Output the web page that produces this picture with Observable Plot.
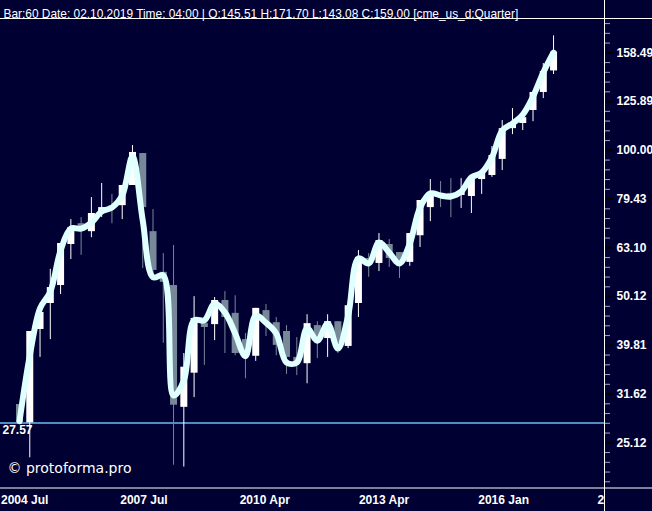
<!DOCTYPE html>
<html><head><meta charset="utf-8">
<script src="https://cdn.jsdelivr.net/npm/d3@7"></script>
<script src="https://cdn.jsdelivr.net/npm/@observablehq/plot@0.6"></script>
<style>
html,body{margin:0;padding:0;background:#000033;}
#chart svg{display:block;}
</style></head><body><div id="chart"></div>
<script>
// Quarterly OHLC candles (bar index 0..52)
const opens  = [30.1,27.6,42.9,48.5,52.8,64.1,70.7,68.1,74.2,77.0,77.0,84.7,98.5,68.1,56.2,52.8,29.7,34.9,44.1,43.9,49.2,46.3,40.9,37.8,46.9,44.3,42.5,37.6,36.5,43.7,41.1,44.5,39.6,48.5,60.0,58.6,64.1,61.7,58.9,66.8,76.3,81.6,81.6,80.8,80.4,87.1,88.8,95.8,110.8,113.5,120.7,131.4,145.51];
const highs  = [30.1,42.5,46.5,57.0,64.4,72.1,72.8,80.0,85.5,81.2,84.7,102.3,98.5,75.6,61.4,63.8,38.3,50.1,44.8,49.9,51.3,50.3,42.1,47.4,48.3,45.4,43.7,41.3,46.0,44.5,46.0,44.5,48.0,62.3,61.4,67.5,65.6,61.7,67.5,78.9,87.1,86.3,87.5,87.5,88.0,89.6,101.8,115.1,121.8,116.7,131.4,150.7,171.70];
const lows   = [27.6,23.4,37.6,40.9,50.6,59.7,60.9,66.2,72.8,70.7,72.1,84.7,57.2,55.4,40.2,22.6,22.4,31.1,36.2,40.7,38.3,37.9,34.0,36.9,41.5,37.9,34.7,34.5,33.2,37.4,37.6,38.3,39.2,45.4,54.9,56.4,57.5,54.6,57.8,63.2,71.4,76.3,72.8,76.0,74.2,81.2,88.0,90.9,107.7,109.8,114.5,127.7,143.08];
const closes = [27.57,42.5,46.5,52.3,64.4,69.4,69.4,74.2,76.3,76.0,84.7,99.0,76.3,56.7,53.6,30.0,35.9,45.2,43.3,49.2,45.4,38.3,37.9,47.4,44.3,39.8,37.6,36.7,44.1,40.7,44.5,40.2,48.0,60.3,58.9,65.3,60.0,58.9,67.5,78.9,82.0,80.4,80.4,82.0,88.0,89.6,97.6,110.8,113.5,116.7,131.4,145.1,159.00];
// Smoothed indicator line
const smoothValues = [27.8,37.9,47.4,51.3,62.3,69.1,69.1,71.1,74.9,76.3,80.8,97.1,71.8,54.9,55.4,31.4,33.7,44.8,44.8,48.5,46.5,42.1,37.8,45.8,44.3,42.1,36.7,36.7,43.1,40.7,44.1,39.2,45.8,60.0,58.6,64.7,61.7,58.6,64.4,76.3,81.6,80.8,80.4,82.3,88.0,90.0,96.7,109.8,113.5,118.4,128.9,144.4,158.7];
// Level line
const levelValue = [27.57];
// Axis ticks
const yTickValues = [25.12,31.62,39.81,50.12,63.10,79.43,100.00,125.89,158.49];
const xTickLabels = ["2004 Jul","2007 Jul","2010 Apr","2013 Apr","2016 Jan","2"];
const xTickAt     = [-1.80, 9.81, 21.44, 33.05, 44.67, 56.29];
const headerText = "Bar:60 Date: 02.10.2019 Time: 04:00 | O:145.51 H:171.70 L:143.08 C:159.00 [cme_us_d:Quarter]";
const watermark = "\u00a9 protoforma.pro";

const bars = opens.map((o, i) => ({i, o, h: highs[i], l: lows[i], c: closes[i], up: closes[i] >= o}));
const upBars = bars.filter(d => d.up), downBars = bars.filter(d => !d.up);
const smooth = smoothValues.map((v, i) => ({i, v}));
const xLabelMap = new Map(xTickAt.map((p, k) => [p, xTickLabels[k]]));
const yMinor = d3.range(132, 228, 2).map(k => Math.pow(10, k / 100)).filter((v, k) => (132 + 2 * k) % 10 !== 0);

const xDom = [-1.85, 56.96];
const yDom = [20.29, 186.4];
const UP = "#ffffff", DOWN = "#778899";
const font = "'Liberation Sans', Arial, sans-serif";

const chart = Plot.plot({
  width: 652, height: 511,
  marginTop: 18, marginBottom: 23.5, marginLeft: 0, marginRight: 48,
  style: {background: "#000033", color: "white", fontFamily: font, fontSize: "12px", overflow: "visible"},
  x: {type: "linear", domain: xDom, axis: null, label: null},
  y: {type: "log", domain: yDom, axis: null, label: null},
  marks: [
    Plot.ruleY(levelValue, {y: d => d, stroke: "#4f8cc0", strokeWidth: 2}),
    Plot.ruleX(upBars, {x: "i", y1: "l", y2: "h", stroke: UP, strokeWidth: 1}),
    Plot.ruleX(downBars, {x: "i", y1: "l", y2: "h", stroke: DOWN, strokeWidth: 1}),
    Plot.ruleX(upBars, {x: "i", y1: "o", y2: "c", stroke: UP, strokeWidth: 7}),
    Plot.ruleX(downBars, {x: "i", y1: "o", y2: "c", stroke: DOWN, strokeWidth: 7}),
    Plot.line(smooth, {x: "i", y: "v", stroke: "#e0ffff", strokeWidth: 6, curve: "catmull-rom", strokeLinejoin: "round", strokeLinecap: "round"}),
    Plot.text(levelValue, {y: d => d, text: d => d.toFixed(2), frameAnchor: "left", dx: 2, dy: 7, textAnchor: "start", fill: "white", fontWeight: "bold", fontSize: 12}),
    Plot.text([watermark], {text: d => d, frameAnchor: "bottom-left", dx: 7, dy: -15.5, textAnchor: "start", fill: "white", fontFamily: "'DejaVu Sans', sans-serif", fontSize: 14}),
    Plot.text([headerText], {text: d => d, frameAnchor: "top-left", dx: 3, dy: -9, textAnchor: "start", fill: "white", fontSize: 11.9}),
    // y axis: minor ticks, major ticks, labels
    Plot.axisY(yMinor, {anchor: "right", label: null, tickSize: 5, tickFormat: () => "", color: "#a0a8b8"}),
    Plot.axisY(yTickValues, {anchor: "right", label: null, tickSize: 9, strokeWidth: 2, tickFormat: () => "", color: "black"}),
    Plot.axisY(yTickValues, {anchor: "right", label: null, tickSize: 0, tickPadding: 12, tickFormat: d => d.toFixed(2), color: "white", fontWeight: "bold", fontSize: 12}),
    // x axis labels
    Plot.axisX(xTickAt, {anchor: "bottom", label: null, tickSize: 0, tickPadding: 7.3, tickFormat: d => xLabelMap.get(d), textAnchor: "start", color: "white", fontWeight: "bold", fontSize: 12}),
    // panel borders
    Plot.ruleX([xDom[1]], {x: d => d, stroke: "white", insetTop: -18, insetBottom: -23.5}),
    Plot.ruleY([yDom[0]], {y: d => d, stroke: "white", insetRight: -48}),
    Plot.ruleY([yDom[1]], {y: d => d, stroke: "white", insetRight: -48})
  ]
});
document.getElementById("chart").appendChild(chart);
</script></body></html>
